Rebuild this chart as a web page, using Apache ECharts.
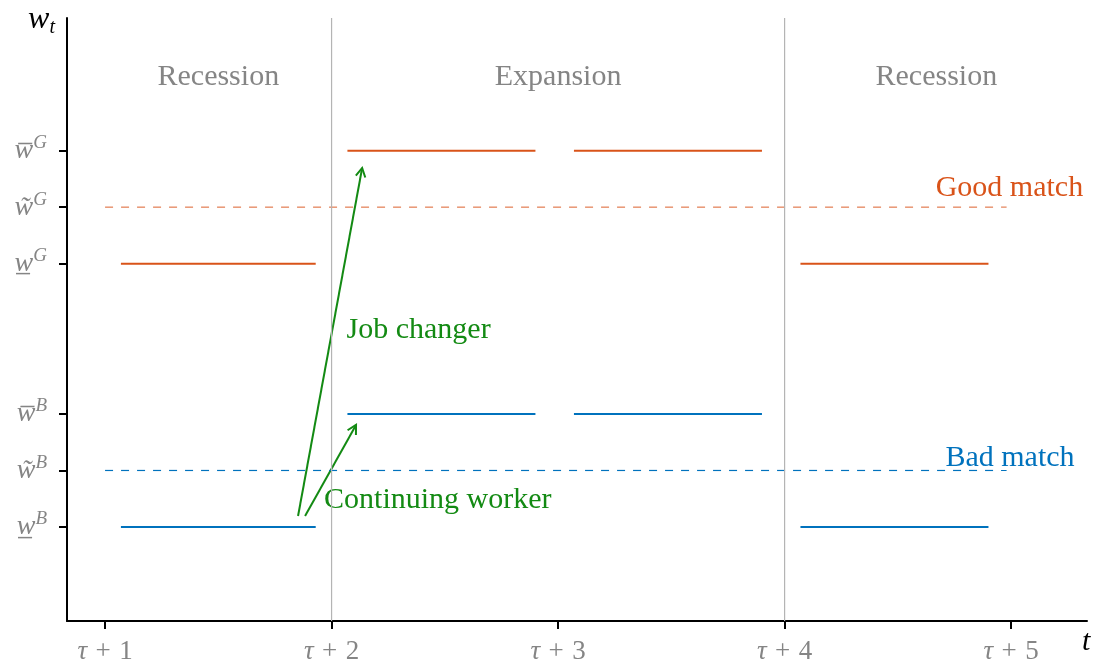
<!DOCTYPE html>
<html>
<head>
<meta charset="utf-8">
<script src="https://cdn.jsdelivr.net/npm/echarts@6/dist/echarts.min.js"></script>
<style>
  html, body { margin: 0; padding: 0; background: #fff; }
  #chart { width: 1097px; height: 667px; }
</style>
</head>
<body>
<div id="chart"></div>
<script>
// Wage levels (vertical axis values)
const wLowB = 1.0, wTildeB = 1.5, wHighB = 2.0;
const wLowG = 3.33, wTildeG = 3.83, wHighG = 4.33;

// Periods and tick labels on the time axis
const periods = [1, 2, 3, 4, 5];
const periodLabels = ['{i|τ}{p|+}{n|1}', '{i|τ}{p|+}{n|2}', '{i|τ}{p|+}{n|3}', '{i|τ}{p|+}{n|4}', '{i|τ}{p|+}{n|5}'];

// Wage tick positions and their labels
const wageTicks = [wLowB, wTildeB, wHighB, wLowG, wTildeG, wHighG];
const wageLabels = ['{w|w̲}{s|B}', '{w|w̃}{s|B}', '{w|w̅}{s|B}', '{w|w̲}{s|G}', '{w|w̃}{s|G}', '{w|w̅}{s|G}'];

// Wage segments within each period
const segStart = [1.07, 2.07, 3.07, 4.07];
const segEnd = [1.93, 2.90, 3.90, 4.90];
const goodWages = [wLowG, wHighG, wHighG, wLowG];
const badWages = [wLowB, wHighB, wHighB, wLowB];

// Reservation thresholds (dashed)
const thresholdSpan = [1.0, 4.98];

// Business-cycle boundaries and phase labels
const cycleBounds = [2, 4];
const phaseNames = ['Recession', 'Expansion', 'Recession'];
const phaseX = [1.5, 3.0, 4.67];
const phaseY = 4.98;

// Transition arrows [x0, y0, x1, y1]
const arrowJob = [1.852, 1.097, 2.135, 4.177];
const arrowStay = [1.883, 1.097, 2.108, 1.903];

// Annotation texts
const notes = [
  { text: 'Job changer', x: 2.066, y: 2.743, color: '#138a13', align: 'left' },
  { text: 'Continuing worker', x: 1.967, y: 1.239, color: '#138a13', align: 'left' },
  { text: 'Good match', x: 5.318, y: 4.0, color: '#d95319', align: 'right' },
  { text: 'Bad match', x: 5.28, y: 1.61, color: '#0072bd', align: 'right' }
];

const RED = '#d95319', BLUE = '#0072bd', GREEN = '#138a13', GREY = '#858585';
const FONT = 'Liberation Serif';
const TXT = 30;

const xMin = 0.832, xMax = 5.335, yMin = 0.168, yMax = 5.504;

const series = [];

// Wage segments
segStart.forEach((x0, i) => {
  series.push({
    type: 'line', silent: true, symbol: 'none', animation: false,
    lineStyle: { color: RED, width: 2 },
    data: [[x0, goodWages[i]], [segEnd[i], goodWages[i]]]
  });
  series.push({
    type: 'line', silent: true, symbol: 'none', animation: false,
    lineStyle: { color: BLUE, width: 2 },
    data: [[x0, badWages[i]], [segEnd[i], badWages[i]]]
  });
});

// Dashed thresholds
series.push({
  type: 'line', silent: true, symbol: 'none', animation: false,
  lineStyle: { color: RED, opacity: 0.7, width: 1.3, type: [8, 8] },
  data: [[thresholdSpan[0], wTildeG], [thresholdSpan[1], wTildeG]]
});
series.push({
  type: 'line', silent: true, symbol: 'none', animation: false,
  lineStyle: { color: BLUE, width: 1.2, type: [8, 8] },
  data: [[thresholdSpan[0], wTildeB], [thresholdSpan[1], wTildeB]]
});

// Cycle boundaries
cycleBounds.forEach(x => {
  series.push({
    type: 'line', silent: true, symbol: 'none', animation: false,
    lineStyle: { color: '#b4b4b4', width: 1.2 },
    data: [[x, yMin], [x, yMax]]
  });
});

// Arrows with open heads
series.push({
  type: 'custom', silent: true, animation: false,
  data: [arrowJob, arrowStay],
  renderItem: function (params, api) {
    const p0 = api.coord([api.value(0), api.value(1)]);
    const p1 = api.coord([api.value(2), api.value(3)]);
    const ang = Math.atan2(p1[1] - p0[1], p1[0] - p0[0]);
    const L = 10, spread = 0.5;
    const h1 = [p1[0] - L * Math.cos(ang - spread), p1[1] - L * Math.sin(ang - spread)];
    const h2 = [p1[0] - L * Math.cos(ang + spread), p1[1] - L * Math.sin(ang + spread)];
    const st = { stroke: GREEN, lineWidth: 2, fill: null };
    return {
      type: 'group',
      children: [
        { type: 'line', shape: { x1: p0[0], y1: p0[1], x2: p1[0], y2: p1[1] }, style: st },
        { type: 'polyline', shape: { points: [h1, p1, h2] }, style: st }
      ]
    };
  },
  encode: { x: [0, 2], y: [1, 3] }
});

// Text annotations drawn at data coordinates
function textSeries(items) {
  return {
    type: 'custom', silent: true, animation: false,
    data: items.map(t => [t.x, t.y]),
    encode: { x: 0, y: 1 },
    renderItem: function (params, api) {
      const t = items[params.dataIndex];
      const p = api.coord([api.value(0), api.value(1)]);
      return {
        type: 'text', x: p[0], y: p[1],
        style: {
          text: t.text, fill: t.color, font: TXT + 'px "' + FONT + '"',
          align: t.align, verticalAlign: 'middle'
        }
      };
    }
  };
}

series.push(textSeries(phaseX.map((x, i) => ({
  text: phaseNames[i], x: x, y: phaseY, color: GREY, align: 'center'
}))));
series.push(textSeries(notes));

const chart = echarts.init(document.getElementById('chart'), null, { renderer: 'canvas' });
chart.setOption({
  animation: false,
  backgroundColor: '#fff',
  grid: { left: 67, right: 10, top: 18, bottom: 46, containLabel: false },
  xAxis: {
    type: 'value', min: xMin, max: xMax,
    splitLine: { show: false },
    axisLine: { show: true, onZero: false, lineStyle: { color: '#000', width: 2 } },
    axisTick: { show: true, customValues: periods, length: 8, lineStyle: { color: '#000', width: 2 } },
    axisLabel: {
      customValues: periods,
      formatter: v => periodLabels[periods.indexOf(v)],
      margin: 17,
      rich: {
        i: { fontFamily: FONT, fontStyle: 'italic', fontSize: 27, color: GREY },
        p: { fontFamily: FONT, fontSize: 27, color: GREY, width: 32, align: 'center' },
        n: { fontFamily: FONT, fontSize: 27, color: GREY }
      }
    },
    name: 't', nameLocation: 'end', nameGap: -5,
    nameTextStyle: { fontFamily: FONT, fontStyle: 'italic', fontSize: 30, color: '#000', verticalAlign: 'top', padding: [6, 0, 0, 0] }
  },
  yAxis: {
    type: 'value', min: yMin, max: yMax,
    splitLine: { show: false },
    axisLine: { show: true, onZero: false, lineStyle: { color: '#000', width: 2 } },
    axisTick: { show: true, customValues: wageTicks, length: 8, lineStyle: { color: '#000', width: 2 } },
    axisLabel: {
      customValues: wageTicks,
      formatter: v => wageLabels[wageTicks.indexOf(v)],
      margin: 20, color: GREY,
      rich: {
        w: { fontFamily: FONT, fontStyle: 'italic', fontSize: 28, color: GREY },
        s: { fontFamily: FONT, fontStyle: 'italic', fontSize: 19, color: GREY, padding: [0, 0, 15, 0] }
      }
    },
    name: '{w|w}{t|t}', nameLocation: 'end', nameGap: -2,
    nameTextStyle: {
      align: 'right', verticalAlign: 'middle', padding: [0, 12, 0, 0],
      rich: {
        w: { fontFamily: FONT, fontStyle: 'italic', fontSize: 32, color: '#000' },
        t: { fontFamily: FONT, fontStyle: 'italic', fontSize: 20, color: '#000', padding: [16, 0, 0, 0] }
      }
    }
  },
  series: series
});
</script>
</body>
</html>
